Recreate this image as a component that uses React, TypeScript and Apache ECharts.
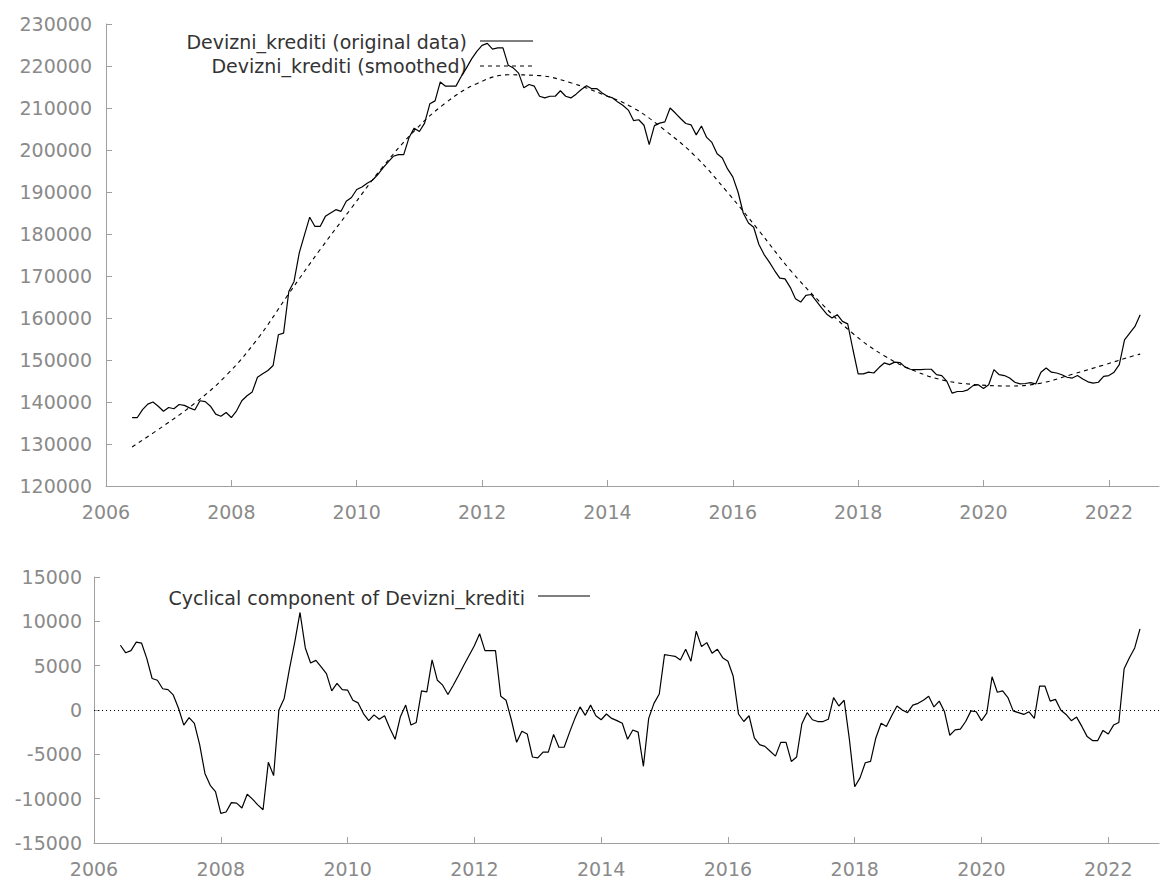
import React, { useEffect, useRef } from "react";
import * as echarts from "echarts";

// Monthly data starting 2006:06
const START_YEAR = 2006;
const START_MONTH = 6;

const original: number[] = [
  136300, 136300, 138200, 139500, 140000, 139000, 137800, 138700, 138400, 139400,
  139200, 138600, 138100, 140300, 140100, 139000, 137100, 136600, 137500, 136300,
  137900, 140300, 141500, 142400, 145900, 146700, 147500, 148700, 156000, 156400,
  166300, 168700, 175500, 179800, 184000, 181800, 181800, 184200, 185000, 185800,
  185400, 187800, 188700, 190600, 191200, 192100, 192800, 194100, 195700, 197100,
  198500, 198900, 198900, 202900, 205200, 204400, 206400, 211000, 211700, 216200,
  215200, 215200, 215200, 217500, 219500, 221700, 223500, 224900, 225400, 224000,
  224300, 224300, 220200, 219500, 218300, 214800, 215600, 215200, 212800, 212400,
  212800, 212800, 214100, 212800, 212400, 213300, 214400, 215300, 214600, 214600,
  213600, 212800, 212400, 211400, 210600, 209500, 207000, 207200, 205900, 201300,
  205800, 206400, 206700, 210000, 208800, 207500, 206300, 206000, 203600, 205700,
  203000, 201800, 199100, 198100, 195500, 193600, 190000, 185000, 182600, 181600,
  177500, 175100, 173300, 171300, 169500, 169300, 167300, 164600, 163800, 165400,
  165600, 164000, 162400, 160900, 160000, 160800, 159200, 158600, 152500, 146700,
  146700, 147100, 146900, 148200, 149300, 148900, 149500, 149400, 148300, 147800,
  147700, 147700, 147800, 147800, 146500, 146300, 144900, 142100, 142500, 142500,
  142900, 143900, 144100, 143200, 144100, 147700, 146500, 146300, 145700, 144700,
  144300, 144400, 144600, 144300, 147100, 148100, 147100, 146900, 146500, 145900,
  145700, 146300, 145500, 144800, 144500, 144700, 146100, 146300, 147100, 148900,
  154800, 156400, 158000, 160800,
];

const cyclical: number[] = [
  7300, 6450, 6700, 7650, 7550, 5800, 3550, 3350, 2400, 2300,
  1700, 200, -1700, -850, -1500, -3900, -7150, -8500, -9200, -11650,
  -11500, -10450, -10500, -11050, -9500, -10050, -10700, -11250, -5900, -7400,
  0, 1300, 4650, 7650, 11000, 7000, 5300, 5600, 4850, 4100,
  2150, 3000, 2300, 2250, 1100, 800, -400, -1200, -550, -1050,
  -650, -2050, -3300, -750, 550, -1700, -1400, 2150, 2050, 5650,
  3350, 2800, 1750, 2800, 3900, 5050, 6150, 7250, 8600, 6700,
  6700, 6700, 1550, 1100, -1100, -3650, -2400, -2700, -5300, -5400,
  -4750, -4750, -2750, -4200, -4200, -2550, -1000, 350, -600, 550,
  -650, -1100, -450, -950, -1200, -1500, -3300, -2250, -2500, -6350,
  -950, 750, 1800, 6250, 6150, 6050, 5650, 6850, 5500, 8900,
  7150, 7600, 6400, 6850, 5900, 5500, 3800, -450, -1300, -650,
  -3150, -3900, -4100, -4650, -5200, -3650, -3650, -5800, -5300, -1550,
  -300, -1100, -1300, -1300, -1050, 1400, 450, 1100, -3350, -8650,
  -7650, -5950, -5800, -3150, -1500, -1850, -650, 450, 0, -300,
  550, 750, 1100, 1550, 350, 1000, -200, -2850, -2250, -2150,
  -1300, -100, -200, -1200, -350, 3750, 2000, 2150, 1400, -100,
  -300, -500, -200, -950, 2700, 2700, 1000, 1200, 0, -500,
  -1200, -800, -1850, -3000, -3450, -3450, -2300, -2700, -1700, -1400,
  4650, 5900, 7000, 9150,
];

// Smoothed (trend) series, read every 6 months (month index from start)
const trendMonthIndex: number[] = [
  0, 6, 12, 18, 24, 30, 36, 42, 48, 54, 60, 66, 72, 78, 84, 90, 96,
  102, 108, 114, 120, 126, 132, 138, 144, 150, 156, 162, 168, 174, 180, 186, 192, 193,
];
const trendValues: number[] = [
  129300, 134300, 139700, 146300, 155000, 165800, 176300, 186200, 196000, 204500,
  211200, 215800, 217900, 217700, 216000, 213300, 210000, 204700, 198300, 189900,
  180800, 171400, 163400, 156300, 151000, 147300, 145000, 144100, 143800, 144500,
  146600, 148800, 151100, 151400,
];

const xLabelYears: number[] = [2006, 2008, 2010, 2012, 2014, 2016, 2018, 2020, 2022];
const xTickYears: number[] = [2008, 2010, 2012, 2014, 2016, 2018, 2020, 2022];

const legendTop1 = "Devizni_krediti (original data)";
const legendTop2 = "Devizni_krediti (smoothed)";
const legendBottom = "Cyclical component of Devizni_krediti";

const FONT = '"DejaVu Sans", Verdana, sans-serif';
const AXIS_COLOR = "#a0a0a0";
const LABEL_COLOR = "#8a8a8a";

const toYear = (i: number) => START_YEAR + (START_MONTH - 1 + i) / 12;

export default function App() {
  const ref = useRef<HTMLDivElement>(null);

  useEffect(() => {
    document.body.style.margin = "0";
    if (!ref.current) return;
    const chart = echarts.init(ref.current, undefined, { renderer: "svg" });

    const originalData = original.map((v, i) => [toYear(i), v]);
    const cycleData = cyclical.map((v, i) => [toYear(i), v]);
    const trendData = trendMonthIndex.map((m, k) => [toYear(m), trendValues[k]]);

    const xAxisBase = (gridIndex: number) => ({
      type: "value" as const,
      gridIndex,
      min: 2006,
      max: 2022.8,
      interval: 2,
      axisLine: { show: true, onZero: false, lineStyle: { color: AXIS_COLOR, width: 1 } },
      axisTick: {
        show: true,
        inside: true,
        length: 6,
        customValues: xTickYears,
        lineStyle: { color: AXIS_COLOR },
      },
      axisLabel: {
        customValues: xLabelYears,
        color: LABEL_COLOR,
        fontSize: 19,
        fontFamily: FONT,
        margin: 16,
        formatter: (v: number) => String(Math.round(v)),
      },
      splitLine: { show: false },
    });

    const yAxisBase = (gridIndex: number, min: number, max: number, interval: number, margin: number) => ({
      type: "value" as const,
      gridIndex,
      min,
      max,
      interval,
      axisLine: { show: true, onZero: false, lineStyle: { color: AXIS_COLOR, width: 1 } },
      axisTick: { show: true, inside: true, length: 6, lineStyle: { color: AXIS_COLOR } },
      axisLabel: {
        color: LABEL_COLOR,
        fontSize: 19,
        fontFamily: FONT,
        margin,
        formatter: (v: number) => String(v),
      },
      splitLine: { show: false },
    });

    const option: any = {
      animation: false,
      backgroundColor: "#ffffff",
      textStyle: { fontFamily: FONT },
      grid: [
        { left: 106, top: 24, width: 1053, height: 462 },
        { left: 94, top: 577, width: 1065, height: 266 },
      ],
      xAxis: [xAxisBase(0), xAxisBase(1)],
      yAxis: [
        yAxisBase(0, 120000, 230000, 10000, 14),
        yAxisBase(1, -15000, 15000, 5000, 12),
      ],
      series: [
        {
          name: legendTop1,
          type: "line",
          xAxisIndex: 0,
          yAxisIndex: 0,
          data: originalData,
          showSymbol: false,
          symbol: "none",
          lineStyle: { color: "#000", width: 1.2 },
        },
        {
          name: legendTop2,
          type: "line",
          xAxisIndex: 0,
          yAxisIndex: 0,
          data: trendData,
          smooth: 0.4,
          showSymbol: false,
          symbol: "none",
          lineStyle: { color: "#000", width: 1.1, type: [4, 4] },
        },
        {
          name: legendBottom,
          type: "line",
          xAxisIndex: 1,
          yAxisIndex: 1,
          data: cycleData,
          showSymbol: false,
          symbol: "none",
          lineStyle: { color: "#000", width: 1.2 },
          markLine: {
            silent: true,
            symbol: "none",
            label: { show: false },
            lineStyle: { color: "#000", width: 1, type: [1, 3] },
            data: [{ yAxis: 0 }],
          },
        },
      ],
      graphic: [
        {
          type: "text",
          x: 467,
          y: 42,
          style: {
            text: legendTop1,
            fill: "#333",
            font: `19px ${FONT}`,
            textAlign: "right",
            textVerticalAlign: "middle",
            align: "right",
            verticalAlign: "middle",
          },
        },
        {
          type: "line",
          shape: { x1: 480, y1: 41, x2: 533, y2: 41 },
          style: { stroke: "#000", lineWidth: 1.2 },
        },
        {
          type: "text",
          x: 467,
          y: 66,
          style: {
            text: legendTop2,
            fill: "#333",
            font: `19px ${FONT}`,
            textAlign: "right",
            textVerticalAlign: "middle",
            align: "right",
            verticalAlign: "middle",
          },
        },
        {
          type: "line",
          shape: { x1: 480, y1: 66, x2: 533, y2: 66 },
          style: { stroke: "#000", lineWidth: 1.1, lineDash: [4, 4] },
        },
        {
          type: "text",
          x: 525,
          y: 598,
          style: {
            text: legendBottom,
            fill: "#333",
            font: `19px ${FONT}`,
            textAlign: "right",
            textVerticalAlign: "middle",
            align: "right",
            verticalAlign: "middle",
          },
        },
        {
          type: "line",
          shape: { x1: 538, y1: 596, x2: 590, y2: 596 },
          style: { stroke: "#000", lineWidth: 1.2 },
        },
      ],
    };

    chart.setOption(option);
    return () => {
      chart.dispose();
    };
  }, []);

  return <div ref={ref} style={{ width: 1162, height: 879 }} />;
}
